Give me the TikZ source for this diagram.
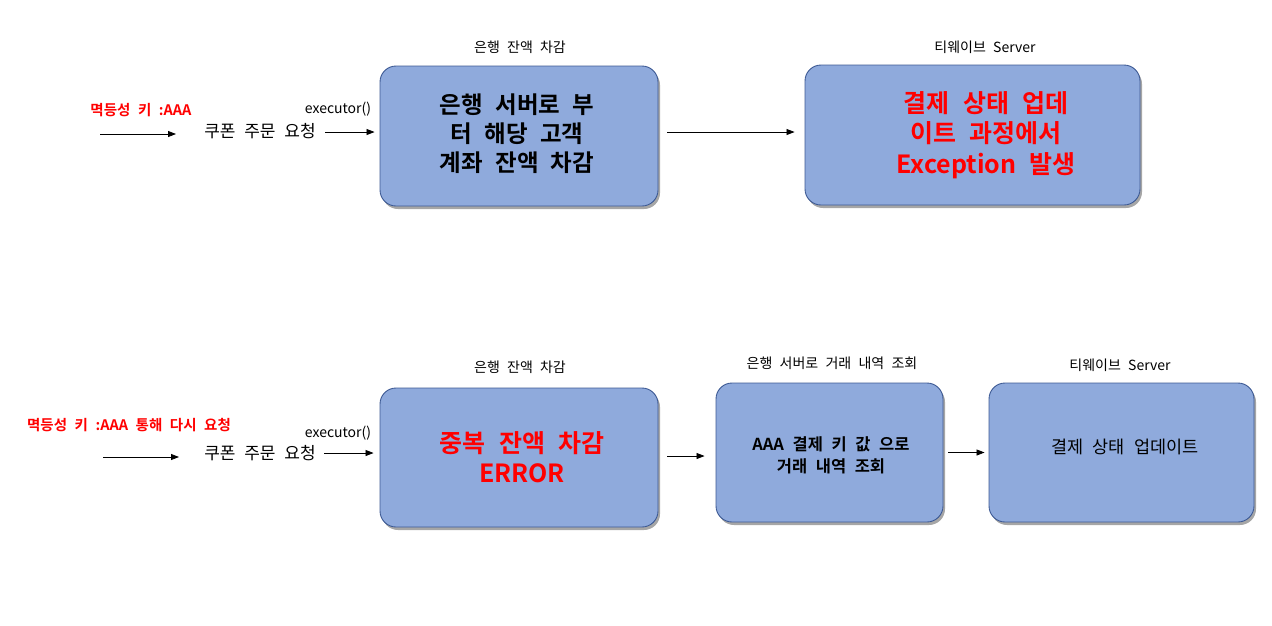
\documentclass[tikz,border=0pt]{standalone}
\usepackage{fontspec}
\setmainfont{Noto Sans CJK KR}[BoldFont={Noto Sans CJK KR Bold}, WordSpace=2.3]
\usetikzlibrary{arrows.meta,shadows}
\definecolor{boxfill}{HTML}{8FAADC}
\definecolor{boxline}{HTML}{3D5A94}
\definecolor{errred}{HTML}{FF0000}
\tikzset{
  procbox/.style={draw=boxline, line width=0.9pt, fill=boxfill, rounded corners=16pt,
    drop shadow={shadow xshift=2pt, shadow yshift=-3pt, fill=black, opacity=0.35}},
  flow/.style={line width=0.8pt, -{Triangle[length=8pt,width=6pt]}},
  caption/.style={font=\fontsize{14}{16}\selectfont},
  redlabel/.style={font=\bfseries\fontsize{14.5}{17}\selectfont, text=errred},
  reqlabel/.style={font=\fontsize{17}{20}\selectfont},
  bigtext/.style={font=\bfseries\fontsize{23.5}{29}\selectfont, align=center},
  bigred/.style={font=\bfseries\fontsize{25}{30.5}\selectfont, align=center, text=errred},
  midtext/.style={font=\bfseries\fontsize{16.5}{22}\selectfont, align=center},
  plaintext/.style={font=\fontsize{17.5}{22}\selectfont, align=center},
}
\begin{document}
\begin{tikzpicture}[x=1pt,y=-1pt]
\useasboundingbox (0,0) rectangle (1272,625);
% ---------- top row ----------
\node[redlabel] (k1) at (141,110) {멱등성 키 :AAA};
\coordinate (a1s) at (100,134);
\coordinate (a1e) at (176,134);
\draw[flow] (a1s) -- (a1e);
\node[reqlabel] (r1) at (260,131) {쿠폰 주문 요청};
\node[caption] (e1) at (338,109) {executor()};
\node[procbox, minimum width=278pt, minimum height=140pt] (b1) at (519,136) {};
\node[bigtext] (t1) at (517,134) {은행 서버로 부\\터 해당 고객\\계좌 잔액 차감};
\node[caption] (c1) at (520,47) {은행 잔액 차감};
\coordinate (a2s) at (325,132);
\draw[flow, shorten >=5pt] (a2s) -- (a2s -| b1.west);
\node[procbox, minimum width=335pt, minimum height=140pt] (b2) at (972.5,135) {};
\node[bigred] (t2) at (986,135) {결제 상태 업데\\이트 과정에서\\Exception 발생};
\node[caption] (c2) at (985,47) {티웨이브 Server};
\draw[flow, shorten <=9pt, shorten >=10pt] ([yshift=4pt]b1.east) -- ([yshift=4pt]b1.east -| b2.west);
% ---------- bottom row ----------
\node[redlabel] (k2) at (129,425) {멱등성 키 :AAA 통해 다시 요청};
\coordinate (a3s) at (103,457);
\coordinate (a3e) at (179,457);
\draw[flow] (a3s) -- (a3e);
\node[reqlabel] (r2) at (260,453) {쿠폰 주문 요청};
\node[caption] (e2) at (338,433) {executor()};
\node[procbox, minimum width=278pt, minimum height=139pt] (b3) at (519,457.5) {};
\node[bigred] (t3) at (522,457) {중복 잔액 차감\\ERROR};
\node[caption] (c3) at (520,367) {은행 잔액 차감};
\coordinate (a4s) at (324,453);
\draw[flow, shorten >=6pt] (a4s) -- (a4s -| b3.west);
\node[procbox, minimum width=227pt, minimum height=139pt] (b4) at (829.5,452.5) {};
\node[midtext] (t4) at (831,455) {AAA 결제 키 값 으로\\거래 내역 조회};
\node[caption] (c4) at (832,363) {은행 서버로 거래 내역 조회};
\draw[flow, shorten <=9pt, shorten >=11pt] ([yshift=1.5pt]b3.east) -- ([yshift=1.5pt]b3.east -| b4.west);
\node[procbox, minimum width=265pt, minimum height=139pt] (b5) at (1121.5,452.5) {};
\node[plaintext] (t5) at (1125,447) {결제 상태 업데이트};
\node[caption] (c5) at (1120,365) {티웨이브 Server};
\draw[flow, shorten <=5pt, shorten >=4pt] (b4.east) -- (b4.east -| b5.west);
\end{tikzpicture}
\end{document}
